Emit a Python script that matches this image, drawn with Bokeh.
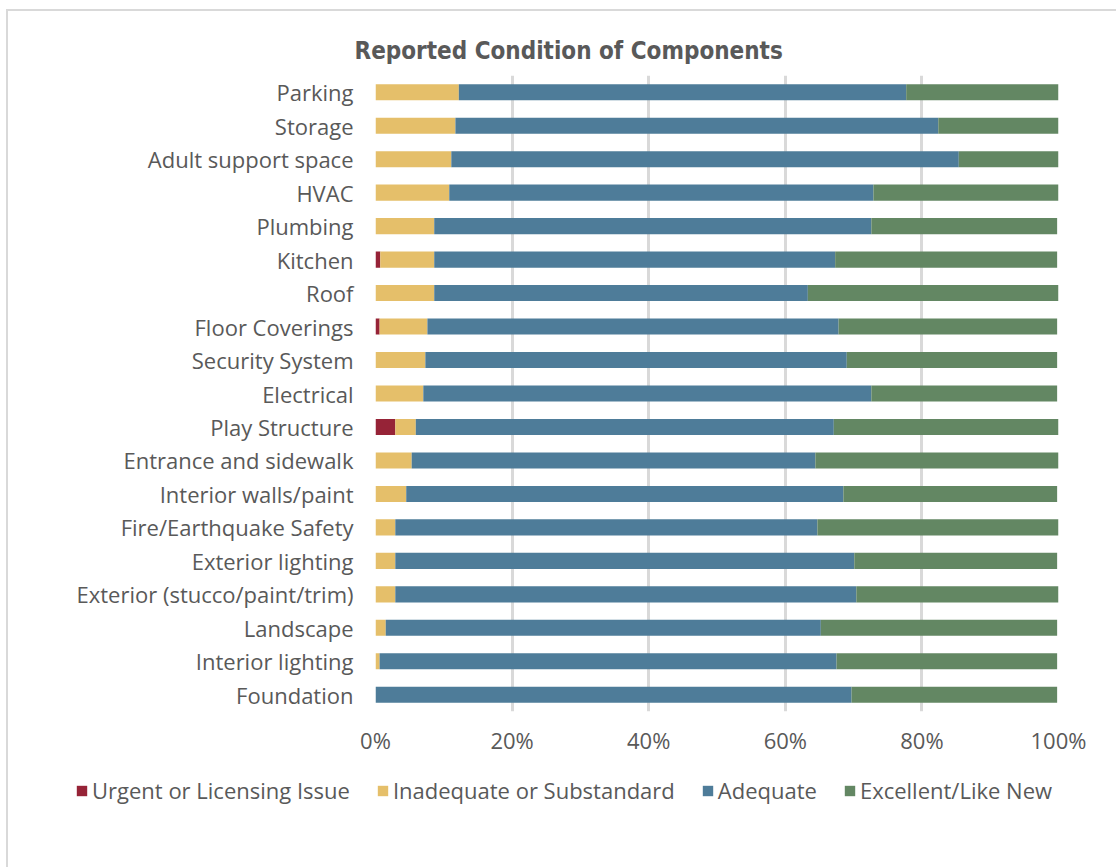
from bokeh.plotting import figure
from bokeh.layouts import column
from bokeh.models import (ColumnDataSource, FactorRange, Range1d, NumeralTickFormatter,
                          FixedTicker, Legend, LegendItem)
from bokeh.embed import file_html
from bokeh.resources import INLINE

components = ["Parking", "Storage", "Adult support space", "HVAC", "Plumbing", "Kitchen",
              "Roof", "Floor Coverings", "Security System", "Electrical", "Play Structure",
              "Entrance and sidewalk", "Interior walls/paint", "Fire/Earthquake Safety",
              "Exterior lighting", "Exterior (stucco/paint/trim)", "Landscape",
              "Interior lighting", "Foundation"]
urgent = [0.0, 0.0, 0.0, 0.0, 0.0, 0.7, 0.0, 0.6, 0.0, 0.0, 2.9, 0.0, 0.0, 0.0, 0.0, 0.0, 0.0, 0.0, 0.0]
inadequate = [12.2, 11.7, 11.1, 10.8, 8.6, 7.9, 8.6, 7.0, 7.3, 7.0, 3.0, 5.3, 4.5, 2.9, 2.9, 2.9, 1.5, 0.6, 0.0]
adequate = [65.5, 70.7, 74.3, 62.1, 64.0, 58.7, 54.7, 60.2, 61.7, 65.6, 61.2, 59.1, 64.0, 61.8, 67.2, 67.5, 63.7, 66.9, 69.7]
excellent = [22.3, 17.6, 14.6, 27.1, 27.2, 32.5, 36.7, 32.0, 30.8, 27.2, 32.9, 35.6, 31.3, 35.3, 29.7, 29.6, 34.6, 32.3, 30.1]
series = ["Urgent or Licensing Issue", "Inadequate or Substandard", "Adequate", "Excellent/Like New"]
colors = ["#962337", "#E5BF6A", "#4E7C99", "#638763"]
x_ticks = [0, 0.2, 0.4, 0.6, 0.8, 1.0]

src = ColumnDataSource(dict(
    comp=components,
    u=[v / 100 for v in urgent],
    i=[v / 100 for v in inadequate],
    a=[v / 100 for v in adequate],
    e=[v / 100 for v in excellent],
))
stackers = ["u", "i", "a", "e"]

p = figure(width=1108, height=761, output_backend="svg", toolbar_location=None,
           x_range=Range1d(0, 1), y_range=FactorRange(factors=list(reversed(components))),
           min_border_left=367, min_border_right=58, min_border_top=64, min_border_bottom=61)
p.outline_line_color = None
p.background_fill_color = "white"
p.border_fill_color = "white"

rs = p.hbar_stack(stackers, y="comp", height=0.48, color=colors, line_color=None, source=src)

p.xaxis.ticker = FixedTicker(ticks=x_ticks)
p.xaxis.formatter = NumeralTickFormatter(format="0%")
p.xgrid.ticker = FixedTicker(ticks=x_ticks)
p.xgrid.grid_line_color = "#d9d9d9"
p.xgrid.grid_line_width = 3
p.ygrid.grid_line_color = None

for ax in (p.xaxis, p.yaxis):
    ax.axis_line_color = None
    ax.major_tick_line_color = None
    ax.minor_tick_line_color = None
    ax.major_tick_in = 0
    ax.major_tick_out = 0
    ax.major_label_text_font = "Open Sans"
    ax.major_label_text_font_size = "22px"
    ax.major_label_text_color = "#595959"
p.xaxis.major_label_standoff = 13
p.yaxis.major_label_standoff = 22

p.title.text = "Reported Condition of Components"
p.title.text_font = "DejaVu Sans Condensed"
p.title.text_font_style = "bold"
p.title.text_font_size = "24px"
p.title.text_color = "#595959"
p.title.align = "left"
p.title.offset = -21
p.title.standoff = 21

top = column(p)
top.margin = (9, 0, 0, 6)
top.styles = {"border-left": "2px solid #d9d9d9", "border-top": "2px solid #d9d9d9",
              "overflow": "hidden"}

# legend strip: the same stacked series drawn with zero bar height, so only the legend entries show
pl = figure(width=1108, height=95, output_backend="svg", toolbar_location=None,
            x_axis_type=None, y_axis_type=None,
            x_range=Range1d(0, 1), y_range=FactorRange(factors=list(reversed(components))),
            min_border_left=0, min_border_right=0, min_border_top=0, min_border_bottom=0)
pl.margin = (0, 0, 0, 6)
pl.styles = {"border-left": "2px solid #d9d9d9"}
pl.outline_line_color = None
pl.background_fill_color = "white"
pl.border_fill_color = "white"
rl = pl.hbar_stack(stackers, y="comp", height=0, color=colors, line_color=None, source=src)

legend = Legend(items=[LegendItem(label=s, renderers=[r]) for s, r in zip(series, rl)],
                orientation="horizontal", location=(67, 62), padding=0, margin=0,
                spacing=26, glyph_width=13, glyph_height=13, label_standoff=4,
                label_text_font="Open Sans", label_text_font_size="22px",
                label_text_color="#595959", border_line_color=None, background_fill_alpha=0)
pl.add_layout(legend)

open("out.html", "w").write(file_html([top, pl], INLINE))
